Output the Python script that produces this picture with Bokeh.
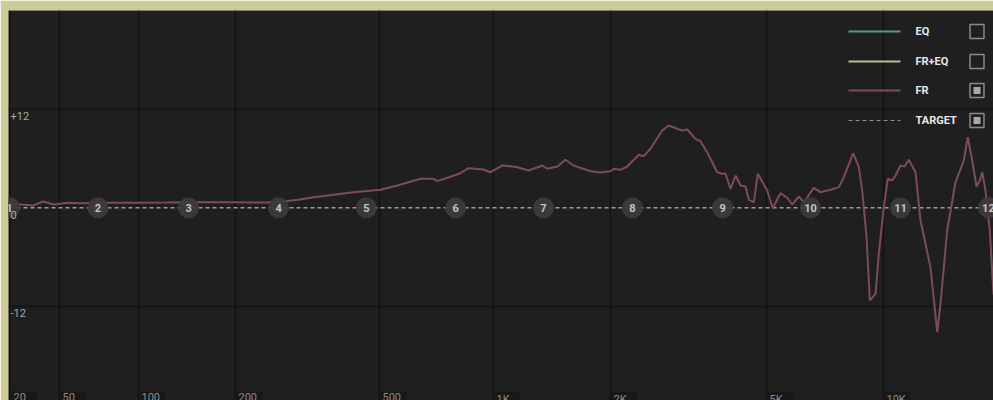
import numpy as np
from bokeh.plotting import figure
from bokeh.models import Range1d, Span
from bokeh.core.properties import value
from bokeh.embed import file_html
from bokeh.resources import INLINE

# ---------------- data ----------------
fr_freq = [20, 24.5, 31, 37, 45, 54, 60, 72, 96, 123, 156, 197, 245, 271, 302, 329, 424,
           503, 558, 641, 694, 711, 756, 818, 859, 941, 982, 1055, 1106, 1153, 1230, 1337,
           1377, 1461, 1532, 1606, 1777, 1885, 2000, 2039, 2120, 2206, 2362, 2432, 2530,
           2710, 2815, 2958, 3047, 3138, 3294, 3393, 3529, 3743, 3855, 3931, 4048, 4168,
           4292, 4420, 4507, 4641, 4751, 5021, 5188, 5432, 5653, 5822, 6054, 6237, 6617,
           6884, 7307, 7674, 7906, 8358, 8640, 8815, 9044, 9223, 9540, 9726, 10018, 10258,
           10529, 10737, 11058, 11324, 11617, 12088, 12453, 13209, 13747, 14019, 14582,
           15317, 16088, 16476, 16913, 17352, 17695, 17947, 18298, 18772, 19187, 20000]
fr_db = [0.5, 0.4, 0.28, 0.77, 0.4, 0.61, 0.55, 0.61, 0.61, 0.64, 0.68, 0.68, 0.64, 0.77,
         1.0, 1.29, 1.9, 2.19, 2.71, 3.53, 3.53, 3.24, 3.65, 4.21, 4.82, 4.66, 4.33, 5.15,
         5.06, 4.94, 4.54, 5.15, 4.74, 5.02, 5.84, 5.15, 4.45, 4.29, 4.45, 4.74, 4.62, 5.02,
         6.45, 6.28, 7.18, 9.4, 10.01, 9.61, 9.4, 9.53, 8.39, 8.1, 6.76, 4.33, 4.14, 4.14,
         2.31, 3.93, 2.71, 2.59, 0.97, 0.68, 4.14, 2.1, -0.05, 1.78, 1.22, 0.4, 1.37, 0.68,
         2.43, 1.9, 2.19, 2.51, 3.72, 6.64, 4.94, 2.1, -3.58, -11.28, -10.46, -5.6, 0.07,
         3.53, 3.32, 3.93, 5.15, 5.02, 5.84, 4.33, -1.55, -7.23, -15.13, -11.68, -2.76,
         3.11, 5.75, 8.59, 5.75, 2.59, 3.32, 4.33, 2.1, -2.76, -10.46, -13.0]
target_freq = [20, 20000]
target_db = [0, 0]
band_freq = [20, 70, 143, 263, 460, 794, 1345, 2276, 3862, 6490, 11060, 18620]
band_gain = [0] * 12
band_labels = [str(i) for i in range(1, 13)]
x_tick_freq = [20, 50, 100, 200, 500, 1000, 2000, 5000, 10000]
x_tick_labels = ["20", "50", "100", "200", "500", "1K", "2K", "5K", "10K"]
y_grid_db = [12, -12]
y_tick_db = [12, 0, -12]
y_tick_labels = ["+12", "0", "-12"]
legend_labels = ["EQ", "FR+EQ", "FR", "TARGET"]
legend_checked = [False, False, True, True]

# ---------------- warped frequency scale (axis definition) ----------------
SCALE_F = [20, 50, 100, 200, 500, 1000, 2000, 5000, 10000, 20000]
SCALE_X = [9, 59, 138, 235, 379, 493, 610, 766, 883, 1000]


def fx(f):
    return np.interp(np.log10(np.asarray(f, dtype=float)), np.log10(SCALE_F), SCALE_X)


FONT = value("Roboto")
BG = "#1f1f1f"
GRID = "#121212"
FR_COLOR = "#7d4b5d"

p = figure(width=993, height=400, x_range=Range1d(8, 993), y_range=Range1d(-23.44, 24),
           output_backend="svg", toolbar_location=None,
           x_axis_location=None, y_axis_location=None,
           min_border_left=8, min_border_top=10, min_border_right=0, min_border_bottom=0,
           background_fill_color=BG, border_fill_color="#cccc99", outline_line_color=None)
p.title.visible = False
p.grid.visible = False
p.extra_y_ranges = {"px": Range1d(400, 10)}

# grid (behind everything)
for xv in fx(x_tick_freq):
    p.add_layout(Span(location=float(xv), dimension="height", line_color=GRID,
                      line_width=1.5, level="underlay"))
for yv in y_grid_db:
    p.add_layout(Span(location=yv, dimension="width", line_color=GRID, line_width=1.5,
                      level="underlay"))

# target and FR
p.line(fx(target_freq), target_db, line_color="#9c9c9c", line_width=1.5, line_dash="4 3")
p.line(fx(fr_freq), fr_db, line_color=FR_COLOR, line_width=2)

# band markers
bx = fx(band_freq)
p.scatter(bx, band_gain, marker="circle", size=21, fill_color="#3c3c3c", fill_alpha=0.92,
          line_color=None)
p.text(bx, band_gain, text=band_labels, text_align="center", text_baseline="middle",
       text_font=FONT, text_font_style="bold", text_font_size="11px", text_color="#c4c4c4")

# y labels
p.text([10] * len(y_tick_db), y_tick_db, text=y_tick_labels, text_baseline="top",
       y_offset=3, text_font=FONT, text_font_size="11px", text_color="#a8a8a8")

# x labels (bottom, partially cut as in the reference)
xl = np.maximum(fx(x_tick_freq), 10)
p.quad(left=xl, right=xl + 27, top=[391] * len(xl), bottom=[412] * len(xl), y_range_name="px",
       fill_color="#181818", line_color=None)
p.text(xl + 3, [392] * len(xl), text=x_tick_labels, text_baseline="top", y_range_name="px",
       text_font=FONT, text_font_size="11px", text_color="#8c8c8c")

# legend
rows = [31, 61, 90, 120]
leg_colors = ["#4f9c96", "#bdbd98", FR_COLOR]
p.segment(x0=[848] * 3, x1=[900] * 3, y0=rows[:3], y1=rows[:3], y_range_name="px",
          line_color=leg_colors, line_width=2)
p.segment(x0=[848], x1=[900], y0=rows[3:], y1=rows[3:], y_range_name="px",
          line_color="#8c8c8c", line_width=1.2, line_dash="4 3")
p.text([915] * 4, rows, text=legend_labels, text_baseline="middle", y_range_name="px",
       text_font=FONT, text_font_style="bold", text_font_size="11px", text_color="#e8e8e8")
p.rect([976.5] * 4, rows, width=14, height=14, y_range_name="px", fill_color=None,
       line_color="#8a8a8a", line_width=1.5)
chk = [r for r, c in zip(rows, legend_checked) if c]
p.rect([976.5] * len(chk), chk, width=7, height=7, y_range_name="px", fill_color="#a8a8a8",
       line_color=None)

open("out.html", "w").write(file_html(p, INLINE))
